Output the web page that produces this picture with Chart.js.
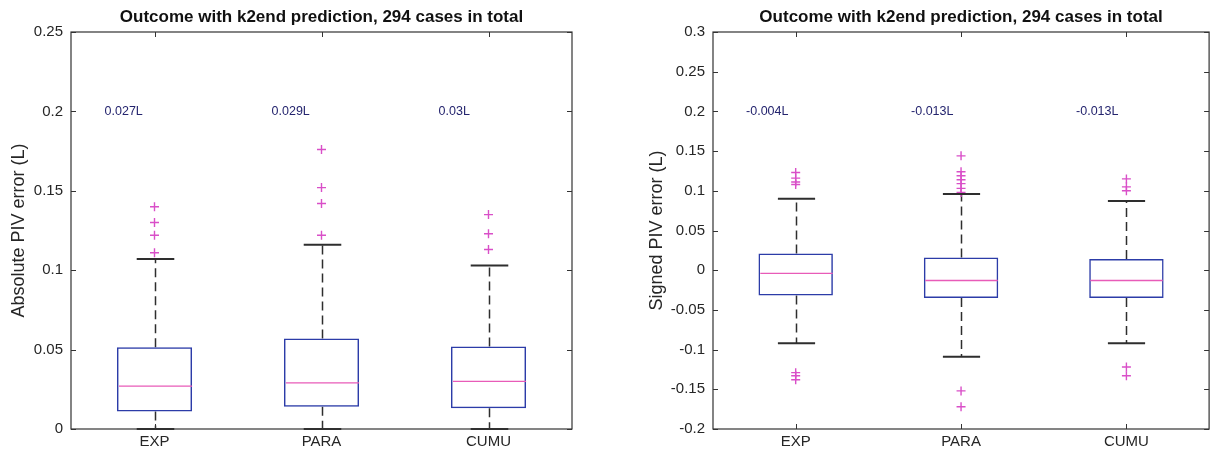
<!DOCTYPE html>
<html>
<head>
<meta charset="utf-8">
<script src="https://cdn.jsdelivr.net/npm/chart.js@4/dist/chart.umd.min.js"></script>
<style>
  body { margin: 0; background: #fff; }
  .wrap { position: relative; width: 1215px; height: 454px; }
  canvas { position: absolute; top: 0; }
  #grafAbs { left: 0; }
  #grafSig { left: 610px; }
</style>
</head>
<body>
<div class="wrap">
  <canvas id="grafAbs" width="600" height="454"></canvas>
  <canvas id="grafSig" width="605" height="454"></canvas>
</div>
<script>
// grupos
var categorias = ['EXP', 'PARA', 'CUMU'];

// erro absoluto
var absMin = [0, 0, 0];
var absQ1 = [0.011, 0.014, 0.013];
var absMediana = [0.027, 0.029, 0.03];
var absQ3 = [0.0515, 0.057, 0.052];
var absMax = [0.107, 0.116, 0.103];
var absOutliers = [
    [0.111, 0.122, 0.130, 0.140],
    [0.122, 0.142, 0.152, 0.176],
    [0.113, 0.123, 0.135]
];
var absTicks = [0, 0.05, 0.1, 0.15, 0.2, 0.25];

// erro com sinal
var sigMin = [-0.092, -0.109, -0.092];
var sigQ1 = [-0.032, -0.035, -0.035];
var sigMediana = [-0.004, -0.013, -0.013];
var sigQ3 = [0.021, 0.016, 0.014];
var sigMax = [0.090, 0.096, 0.087];
var sigOutliers = [
    [0.108, 0.111, 0.116, 0.123, -0.129, -0.133, -0.138],
    [0.098, 0.103, 0.109, 0.114, 0.119, 0.124, 0.144, -0.152, -0.172],
    [0.100, 0.105, 0.115, -0.122, -0.133]
];
var sigTicks = [-0.2, -0.15, -0.1, -0.05, 0, 0.05, 0.1, 0.15, 0.2, 0.25, 0.3];

var titulo = 'Outcome with k2end prediction, 294 cases in total';
var alturaRotulo = 0.2;

var fonte = '"Liberation Sans", Arial, Helvetica, sans-serif';
var corEixo = '#333333';
var corOutlier = '#d94fc8';

function montarGrafico(id, d) {
    var pontos = [];
    for (var i = 0; i < categorias.length; i++) {
        for (var j = 0; j < d.outliers[i].length; j++) {
            pontos.push({ x: categorias[i], y: d.outliers[i][j] });
        }
    }

    // bigodes, medianas, moldura e rótulos
    var caixaPlugin = {
        id: 'caixaPlugin',
        beforeDatasetsDraw: function (chart) {
            var ctx = chart.ctx;
            var xs = chart.scales.x, ys = chart.scales.y;
            ctx.save();
            ctx.strokeStyle = '#2e2e2e';
            ctx.lineWidth = 1.5;
            ctx.setLineDash([9, 5]);
            for (var i = 0; i < categorias.length; i++) {
                var x = Math.round(xs.getPixelForValue(i)) + 0.5;
                ctx.beginPath();
                ctx.moveTo(x, ys.getPixelForValue(d.q3[i]));
                ctx.lineTo(x, ys.getPixelForValue(d.max[i]));
                ctx.moveTo(x, ys.getPixelForValue(d.q1[i]));
                ctx.lineTo(x, ys.getPixelForValue(d.min[i]));
                ctx.stroke();
            }
            ctx.restore();
        },
        afterDatasetsDraw: function (chart) {
            var ctx = chart.ctx;
            var xs = chart.scales.x, ys = chart.scales.y;
            var area = chart.chartArea;
            var larg = xs.getPixelForValue(1) - xs.getPixelForValue(0);
            var meiaCaixa = larg * 0.45 / 2;
            ctx.save();
            for (var i = 0; i < categorias.length; i++) {
                var x = Math.round(xs.getPixelForValue(i)) + 0.5;
                // mediana
                var ym = ys.getPixelForValue(d.mediana[i]);
                ctx.strokeStyle = '#e85bb8';
                ctx.lineWidth = 1.3;
                ctx.beginPath();
                ctx.moveTo(x - meiaCaixa + 1, ym);
                ctx.lineTo(x + meiaCaixa - 1, ym);
                ctx.stroke();
                // extremos
                ctx.strokeStyle = '#2e2e2e';
                ctx.lineWidth = 2;
                ctx.beginPath();
                ctx.moveTo(x - meiaCaixa / 2, ys.getPixelForValue(d.max[i]));
                ctx.lineTo(x + meiaCaixa / 2, ys.getPixelForValue(d.max[i]));
                ctx.moveTo(x - meiaCaixa / 2, ys.getPixelForValue(d.min[i]));
                ctx.lineTo(x + meiaCaixa / 2, ys.getPixelForValue(d.min[i]));
                ctx.stroke();
                // rótulo da mediana
                ctx.fillStyle = '#24246e';
                ctx.font = '12.5px ' + fonte;
                ctx.textAlign = 'left';
                ctx.textBaseline = 'middle';
                ctx.fillText(d.mediana[i] + 'L', x - larg * 0.305, ys.getPixelForValue(alturaRotulo));
            }
            // moldura com marcas para dentro
            ctx.strokeStyle = corEixo;
            ctx.lineWidth = 1.2;
            ctx.strokeRect(area.left, area.top, area.right - area.left, area.bottom - area.top);
            ctx.lineWidth = 1;
            ctx.beginPath();
            d.ticks.forEach(function (v) {
                var y = Math.round(ys.getPixelForValue(v)) + 0.5;
                ctx.moveTo(area.left, y); ctx.lineTo(area.left + 5, y);
                ctx.moveTo(area.right, y); ctx.lineTo(area.right - 5, y);
            });
            for (var k = 0; k < categorias.length; k++) {
                var xt = Math.round(xs.getPixelForValue(k)) + 0.5;
                ctx.moveTo(xt, area.bottom); ctx.lineTo(xt, area.bottom - 5);
                ctx.moveTo(xt, area.top); ctx.lineTo(xt, area.top + 5);
            }
            ctx.stroke();
            ctx.restore();
        }
    };

    var ctx = document.getElementById(id).getContext('2d');
    return new Chart(ctx, {
        type: 'bar',
        data: {
            labels: categorias,
            datasets: [{
                label: 'caixa',
                data: d.q1.map(function (v, i) { return [v, d.q3[i]]; }),
                backgroundColor: 'rgba(255,255,255,0)',
                borderColor: '#2c3ca8',
                borderWidth: 1.5,
                borderSkipped: false,
                barPercentage: 0.45,
                categoryPercentage: 1,
                order: 2
            }, {
                type: 'line',
                label: 'outliers',
                data: pontos,
                showLine: false,
                borderColor: corOutlier,
                backgroundColor: corOutlier,
                pointStyle: 'cross',
                pointRadius: 4.5,
                pointBorderColor: corOutlier,
                pointBackgroundColor: corOutlier,
                pointBorderWidth: 1.4,
                order: 1
            }]
        },
        options: {
            responsive: false,
            animation: false,
            layout: { padding: { left: 0, right: d.padDir, top: 0, bottom: 0 } },
            plugins: {
                legend: { display: false },
                tooltip: { enabled: false },
                title: {
                    display: true,
                    text: titulo,
                    fullSize: false,
                    color: '#111',
                    font: { family: fonte, size: 17, weight: 'bold', lineHeight: 1 },
                    padding: { top: 9, bottom: 6 }
                }
            },
            scales: {
                x: {
                    grid: { display: false, drawTicks: false },
                    border: { display: false },
                    ticks: { color: '#262626', font: { family: fonte, size: 15 }, padding: 4 },
                    afterFit: function (s) { s.height = 25; }
                },
                y: {
                    min: d.ticks[0],
                    max: d.ticks[d.ticks.length - 1],
                    afterBuildTicks: function (s) {
                        s.ticks = d.ticks.map(function (v) { return { value: v }; });
                    },
                    grid: { display: false, drawTicks: false },
                    border: { display: false },
                    ticks: {
                        color: '#262626',
                        font: { family: fonte, size: 15 },
                        padding: 8,
                        callback: function (v) { return String(+v.toFixed(2)); }
                    },
                    title: {
                        display: true,
                        text: d.tituloY,
                        color: '#262626',
                        font: { family: fonte, size: 18 },
                        padding: { top: d.padTituloY, bottom: 0 }
                    },
                    afterFit: function (s) { s.width = d.largY; }
                }
            }
        },
        plugins: [caixaPlugin]
    });
}

montarGrafico('grafAbs', {
    min: absMin, q1: absQ1, mediana: absMediana, q3: absQ3, max: absMax,
    outliers: absOutliers, ticks: absTicks,
    tituloY: 'Absolute PIV error (L)', largY: 71, padTituloY: 8, padDir: 28
});

montarGrafico('grafSig', {
    min: sigMin, q1: sigQ1, mediana: sigMediana, q3: sigQ3, max: sigMax,
    outliers: sigOutliers, ticks: sigTicks,
    tituloY: 'Signed PIV error (L)', largY: 103, padTituloY: 36, padDir: 2
});
</script>
</body>
</html>
